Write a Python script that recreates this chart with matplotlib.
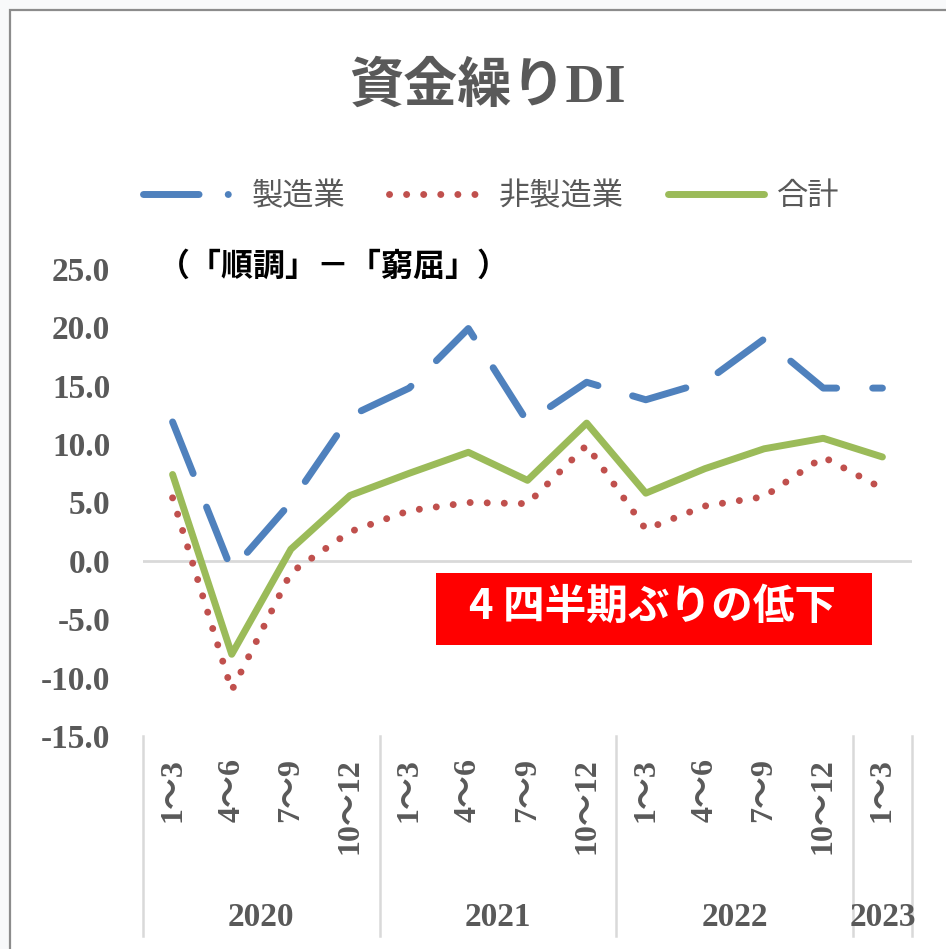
import matplotlib
matplotlib.use("Agg")
import matplotlib.pyplot as plt
from matplotlib.lines import Line2D
from matplotlib.patches import Rectangle
import matplotlib.transforms as mtransforms

# ---- data ----
quarters = ['1～3', '4～6', '7～9', '10～12',
            '1～3', '4～6', '7～9', '10～12',
            '1～3', '4～6', '7～9', '10～12',
            '1～3']
years = ['2020', '2021', '2022', '2023']
year_first_idx = [0, 4, 8, 12]
year_last_idx = [3, 7, 11, 12]
manufacturing = [11.9, -0.8, 5.0, 12.4, 14.8, 19.9, 11.9, 15.3, 13.8, 15.3, 19.0, 14.8, 14.8]
non_manufacturing = [5.4, -11.1, -1.0, 2.5, 4.3, 5.0, 4.9, 9.9, 2.7, 4.7, 5.5, 8.9, 6.2]
total = [7.4, -8.0, 1.0, 5.6, 7.5, 9.3, 6.9, 11.8, 5.8, 7.9, 9.6, 10.5, 8.9]
series_names = ['製造業', '非製造業', '合計']
title = '資金繰りDI'
unit_note = '（「順調」－「窮屈」）'
callout = '4 四半期ぶりの低下'
yticks = [-15, -10, -5, 0, 5, 10, 15, 20, 25]

W, H = 946, 949
fig = plt.figure(figsize=(W / 100, H / 100), dpi=100, facecolor='#f8f9fa')

def fx(px):
    return px / W

def fy(py):
    return 1 - py / H

# outer chart frame
fig.patches.append(Rectangle((fx(9.5), fy(960)), fx(960) - fx(9.5), fy(9.5) - fy(960),
                             transform=fig.transFigure, facecolor='white',
                             edgecolor='#8c8c8c', linewidth=1.6, zorder=-10))

gray = '#595959'
serif = ['Liberation Serif', 'Noto Sans CJK JP']
cjk = ['Noto Sans CJK JP', 'DejaVu Sans']

left, right, top, bottom = 143, 912, 269, 736
ax = fig.add_axes([fx(left), fy(bottom), fx(right) - fx(left), fy(top) - fy(bottom)])
ax.set_zorder(2)
ax.set_facecolor('none')
x = list(range(len(quarters)))
ax.set_xlim(-0.5, len(quarters) - 0.5)
ax.set_ylim(-15, 25)
for s in ax.spines.values():
    s.set_visible(False)

ax.axhline(0, color='#d9d9d9', linewidth=2.0, zorder=1)

lw = 5.0
l_m, = ax.plot(x, manufacturing, color='#4f81bd', linewidth=lw, zorder=3,
               dash_capstyle='round', dash_joinstyle='round', clip_on=False)
l_m.set_dashes([8.0, 5.2])
l_n, = ax.plot(x, non_manufacturing, color='#c0504d', linewidth=lw, zorder=3,
               dash_capstyle='round', dash_joinstyle='round', clip_on=False)
l_n.set_dashes([0.01, 2.45])
l_t, = ax.plot(x, total, color='#9bbb59', linewidth=lw, zorder=4,
               solid_capstyle='round', solid_joinstyle='round', clip_on=False)

# y axis
ax.set_yticks(yticks)
ax.set_yticklabels([f'{v:.1f}' for v in yticks])
ax.tick_params(axis='y', length=0, pad=23.5)
for t in ax.get_yticklabels():
    t.set_fontfamily(serif)
    t.set_fontweight('bold')
    t.set_fontsize(24)
    t.set_color(gray)

# x axis (quarter labels)
ax.set_xticks(x)
ax.set_xticklabels(quarters, rotation=90)
ax.tick_params(axis='x', length=0, pad=16)
for t in ax.get_xticklabels():
    t.set_fontfamily(serif)
    t.set_fontweight('bold')
    t.set_fontsize(23)
    t.set_color(gray)

# group separators and year labels
trans = mtransforms.blended_transform_factory(ax.transData, ax.transAxes)
sep_bottom = -(936 - bottom) / (bottom - top)
seps = [year_first_idx[0] - 0.5] + [i + 0.5 for i in year_last_idx]
for sx in seps:
    ax.plot([sx, sx], [0, sep_bottom], transform=trans, color='#d9d9d9',
            linewidth=1.8, clip_on=False, zorder=1)
year_y = -(918 - bottom) / (bottom - top)
for yr, a, b in zip(years, year_first_idx, year_last_idx):
    ax.text((a + b) / 2, year_y, yr, transform=trans, ha='center', va='center',
            fontsize=24, fontweight='bold', family=serif, color=gray)

# title
fig.text(fx(487), fy(88), title, ha='center', va='center', fontsize=39,
         fontweight='bold', family=serif, color=gray)

# legend
h_m = Line2D([], [], color='#4f81bd', linewidth=lw, dash_capstyle='round')
h_m.set_dashes([8.0, 4.2, 0.01, 4.2])
h_n = Line2D([], [], color='#c0504d', linewidth=lw, dash_capstyle='round')
h_n.set_dashes([0.01, 2.45])
h_t = Line2D([], [], color='#9bbb59', linewidth=lw, solid_capstyle='round')
leg = ax.legend([h_m, h_n, h_t], series_names, loc='center', ncol=3,
                bbox_to_anchor=(fx(491), fy(196)), bbox_transform=fig.transFigure,
                frameon=False, handlelength=3.1, handletextpad=0.4,
                columnspacing=1.4, prop={'family': cjk, 'size': 22.5})
for t in leg.get_texts():
    t.set_color(gray)

# unit note
fig.text(fx(158), fy(267), unit_note, ha='left', va='center', fontsize=23,
         fontweight='bold', family=cjk, color='black')

# callout box
fig.patches.append(Rectangle((fx(436), fy(645)), fx(872) - fx(436), fy(573) - fy(645),
                             transform=fig.transFigure, facecolor='#ff0000',
                             edgecolor='none', zorder=5))
fig.text(fx(652), fy(607), callout, ha='center', va='center', fontsize=30,
         fontweight='bold', family=cjk, color='white', zorder=6)

fig.savefig('out.png', dpi=100, facecolor=fig.get_facecolor())
